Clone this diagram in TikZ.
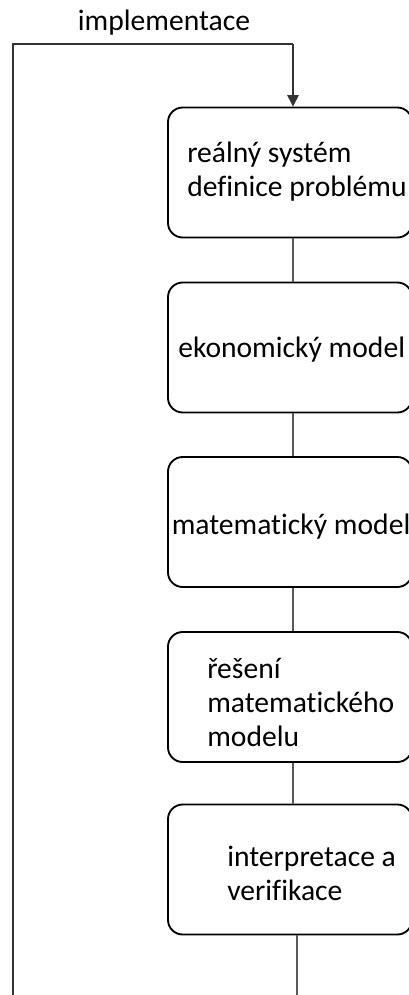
\documentclass[tikz,border=0pt]{standalone}
\usepackage{fontspec}
\setmainfont{Carlito}[Ligatures=NoCommon]
\usetikzlibrary{arrows.meta,calc}
\newcommand{\capfont}{\fontsize{22.2pt}{25.5pt}\selectfont}
\begin{document}
\begin{tikzpicture}[x=0.75pt,y=-0.75pt,
  stage/.style={draw=black,line width=1.4pt,rounded corners=11pt,
    minimum width=183pt,minimum height=97.5pt,inner sep=0pt},
  lbl/.style={font=\capfont,align=left,inner sep=0pt,anchor=west},
  link/.style={draw=black!65,line width=0.8pt},
  feedback/.style={draw=black!80,line width=0.9pt}]
\useasboundingbox (0,0) rectangle (409,995);
\clip (0,0) rectangle (409,995);

% process stages
\node[stage] (b1) at (290,172.5) {};
\node[stage] (b2) at (290,347.5) {};
\node[stage] (b3) at (290,522) {};
\node[stage] (b4) at (290,697) {};
\node[stage] (b5) at (290,869.5) {};

% stage captions
\node[lbl] (t1) at (187,172) {reálný systém\\definice problému};
\node[lbl] (t2) at (178,350) {ekonomický model};
\node[lbl] (t3) at (171.5,527) {matematický model};
\node[lbl] (t4) at (207,702) {řešení\\matematického\\modelu};
\node[lbl] (t5) at (227,873) {interpretace a\\verifikace};

% feedback loop
\coordinate (ax) at (293,44);
\coordinate (lc) at (13,44);
\coordinate (lb) at (13,995);
\coordinate (end) at (297,995);
\node[font=\capfont,inner sep=0pt,anchor=base] (impl) at (164,31) {implementace};
\draw[feedback] (lb) -- (lc) -- (ax);
\draw[feedback,-{Triangle[width=8.5pt,length=8.5pt]}] (ax) -- (ax |- b1.north);

% links between stages
\draw[link] (b1.south -| ax) -- (b2.north -| ax);
\draw[link] (b2.south -| ax) -- (b3.north -| ax);
\draw[link] (b3.south -| ax) -- (b4.north -| ax);
\draw[link] (b4.south -| ax) -- (b5.north -| ax);
\draw[link] (b5.south -| end) -- (end);
\end{tikzpicture}
\end{document}
